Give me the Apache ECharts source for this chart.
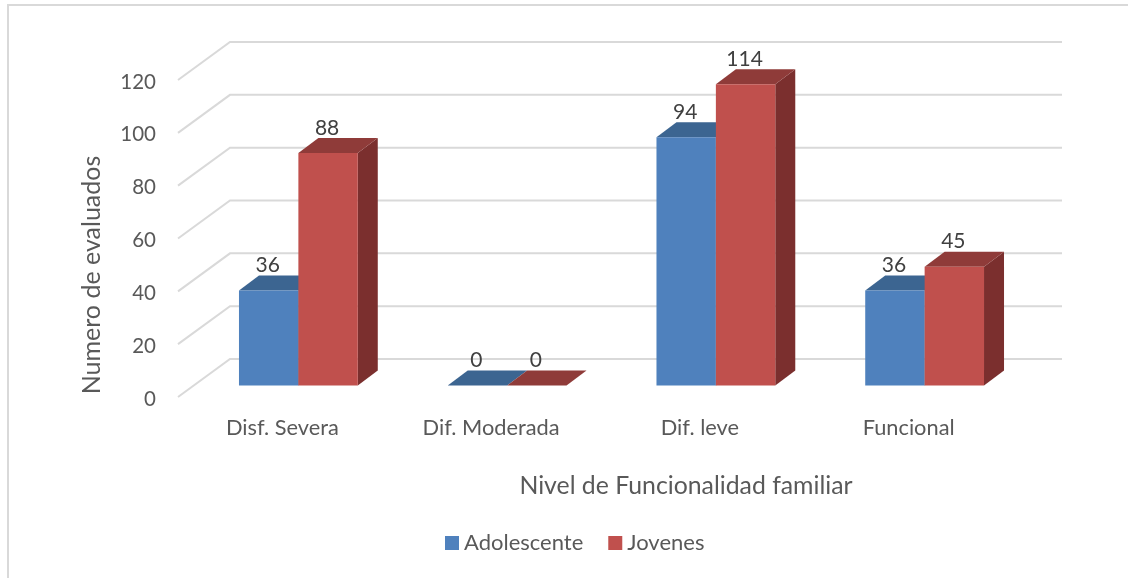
<!DOCTYPE html>
<html>
<head>
<meta charset="utf-8">
<style>html,body{margin:0;padding:0;background:#fff}#chart{width:1128px;height:578px}</style>
<script src="https://cdn.jsdelivr.net/npm/echarts@6/dist/echarts.min.js"></script>
</head>
<body>
<div id="chart"></div>
<script>
const categories = ['Disf. Severa', 'Dif. Moderada', 'Dif. leve', 'Funcional'];
const adolescente = [36, 0, 94, 36];
const jovenes = [88, 0, 114, 45];
const valueTicks = [0, 20, 40, 60, 80, 100, 120];

// Oblique projection: the back wall sits up and to the right of the front plane.
const WALL_DX = 52, WALL_DY = -38, WALL_TRIM = 3;
const BAR_W = 59.4, BAR_DX = 20, BAR_DY = -15;
const BAR_INSET_X = 16, BAR_INSET_Y = -11.5;
const FONT = 'Lato';
const INK = '#595959';

function renderWall(params, api) {
  const cs = params.coordSys;
  const y = api.coord([0, api.value(0)])[1];
  return {
    type: 'polyline',
    silent: true,
    shape: { points: [[cs.x, y], [cs.x + WALL_DX, y + WALL_DY], [cs.x + cs.width + WALL_DX - WALL_TRIM, y + WALL_DY]] },
    style: { stroke: '#D9D9D9', lineWidth: 2, fill: null }
  };
}

function barRenderer(slot, front, top, side) {
  return function (params, api) {
    const idx = api.value(0), val = api.value(1);
    const base = api.coord([idx, 0]), tip = api.coord([idx, val]);
    const x0 = base[0] + BAR_INSET_X - BAR_W + slot * BAR_W;
    const x1 = x0 + BAR_W;
    const y0 = base[1] + BAR_INSET_Y, y1 = tip[1] + BAR_INSET_Y;
    return {
      type: 'group',
      children: [
        { type: 'polygon', shape: { points: [[x1, y1], [x1 + BAR_DX, y1 + BAR_DY], [x1 + BAR_DX, y0 + BAR_DY], [x1, y0]] }, style: { fill: side } },
        { type: 'polygon', shape: { points: [[x0, y1], [x0 + BAR_DX, y1 + BAR_DY], [x1 + BAR_DX, y1 + BAR_DY], [x1, y1]] }, style: { fill: top } },
        { type: 'rect', shape: { x: x0, y: y1, width: BAR_W, height: y0 - y1 }, style: { fill: front } },
        { type: 'text', z2: 10, style: { text: String(val), x: (x0 + x1) / 2 - 1, y: y1 + BAR_DY - 10, align: 'center', verticalAlign: 'middle', font: '21px ' + FONT, fill: '#404040' } }
      ]
    };
  };
}

const chart = echarts.init(document.getElementById('chart'));
chart.setOption({
  animation: false,
  backgroundColor: '#ffffff',
  grid: { left: 178, top: 80, width: 835, height: 317, containLabel: false },
  xAxis: {
    type: 'category', data: categories,
    axisLine: { show: false }, axisTick: { show: false }, splitLine: { show: false },
    axisLabel: { color: INK, fontFamily: FONT, fontSize: 21.8, margin: 20 }
  },
  yAxis: {
    type: 'value', min: 0, max: 120, interval: 20,
    axisLine: { show: false }, axisTick: { show: false }, splitLine: { show: false },
    axisLabel: { color: INK, fontFamily: FONT, fontSize: 20.5, margin: 22, verticalAlign: 'top', lineHeight: 4 }
  },
  legend: {
    data: ['Adolescente', 'Jovenes'],
    left: 440, top: 527, icon: 'rect', itemWidth: 14, itemHeight: 14, itemGap: 25,
    textStyle: { color: INK, fontFamily: FONT, fontSize: 22 }
  },
  graphic: [
    { type: 'polyline', silent: true, shape: { points: [[8, 578], [8, 5], [1128, 5]] }, style: { stroke: '#D9D9D9', lineWidth: 2, fill: null } },
    { type: 'text', x: 92, y: 275, rotation: Math.PI / 2, style: { text: 'Numero de evaluados', align: 'center', verticalAlign: 'middle', font: '25px ' + FONT, fill: INK } },
    { type: 'text', x: 686, y: 486, style: { text: 'Nivel de Funcionalidad familiar', align: 'center', verticalAlign: 'middle', font: '24.8px ' + FONT, fill: INK } }
  ],
  series: [
    { type: 'custom', name: 'wall', silent: true, z: 1, renderItem: renderWall, data: valueTicks.map(v => [v]), encode: { y: 0 }, clip: false },
    { type: 'custom', name: 'Adolescente', z: 2, itemStyle: { color: '#4F81BD' }, clip: false,
      renderItem: barRenderer(0, '#4F81BD', '#3C6591', '#2F5077'),
      data: adolescente.map((v, i) => [i, v]), encode: { x: 0, y: 1 } },
    { type: 'custom', name: 'Jovenes', z: 3, itemStyle: { color: '#C0504D' }, clip: false,
      renderItem: barRenderer(1, '#C0504D', '#8F3B39', '#7B2F2E'),
      data: jovenes.map((v, i) => [i, v]), encode: { x: 0, y: 1 } }
  ]
});
</script>
</body>
</html>
